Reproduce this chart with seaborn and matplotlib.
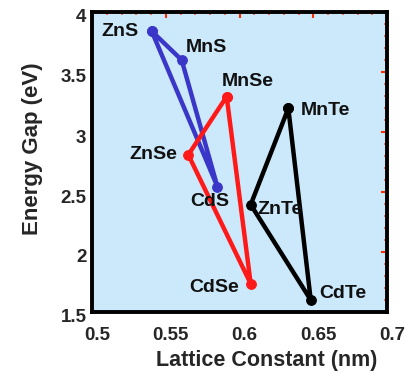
import matplotlib
matplotlib.use("Agg")
import matplotlib.pyplot as plt
import matplotlib.transforms as mtransforms
import numpy as np
import pandas as pd
import seaborn as sns

# II-VI semiconductors: lattice constant (nm) and band gap (eV)
sulfides = ["ZnS", "MnS", "CdS"]
sulfide_a = [0.5405, 0.5608, 0.585]
sulfide_eg = [3.84, 3.60, 2.545]

selenides = ["MnSe", "ZnSe", "CdSe"]
selenide_a = [0.5913, 0.5653, 0.6076]
selenide_eg = [3.295, 2.81, 1.735]

tellurides = ["MnTe", "ZnTe", "CdTe"]
telluride_a = [0.6331, 0.6076, 0.6483]
telluride_eg = [3.197, 2.395, 1.60]

x_ticks = [0.5, 0.55, 0.6, 0.65, 0.7]
x_ticklabels = ["0.5", "0.55", "0.6", "0.65", "0.7"]
y_ticks = [1.5, 2, 2.5, 3, 3.5, 4]
y_ticklabels = ["1.5", "2", "2.5", "3", "3.5", "4"]

sns.set_style("white")
plt.rcParams["font.family"] = ["Liberation Sans", "DejaVu Sans"]
plt.rcParams["font.weight"] = "bold"

fig = plt.figure(figsize=(4.05, 3.74), dpi=100)
ax = fig.add_axes([92 / 405, 62 / 374, 295 / 405, 300 / 374])
ax.set_facecolor("#cce9fb")

groups = [
    (sulfides, sulfide_a, sulfide_eg, "#3a36c8"),
    (selenides, selenide_a, selenide_eg, "#ff1a1a"),
    (tellurides, telluride_a, telluride_eg, "#000000"),
]

for names, a, eg, color in groups:
    df = pd.DataFrame({"a": a + a[:1], "eg": eg + eg[:1]})
    sns.lineplot(data=df, x="a", y="eg", sort=False, estimator=None, ax=ax,
                 color=color, linewidth=3.2, marker="o", markersize=7,
                 markeredgecolor=color, markerfacecolor=color)

# label placement (offsets in pixels, alignment)
label_pos = {
    "ZnS": (-13, 0, "right"), "MnS": (4, 13, "left"), "CdS": (-8, -15, "center"),
    "MnSe": (-5, 15, "left"), "ZnSe": (-11, 0, "right"), "CdSe": (-12, -4, "right"),
    "MnTe": (12, -2, "left"), "ZnTe": (7, -5, "left"), "CdTe": (9, 6, "left"),
}
for names, a, eg, color in groups:
    for n, xv, yv in zip(names, a, eg):
        dx, dy, ha = label_pos[n]
        ax.annotate(n, (xv, yv), xytext=(dx * 0.72, dy * 0.72),
                    textcoords="offset points", ha=ha, va="center",
                    fontsize=14, fontweight="bold", color="#111111")

ax.set_xlim(0.5, 0.7)
ax.set_ylim(1.5, 4)
ax.set_xticks(x_ticks)
ax.set_xticklabels(x_ticklabels)
ax.set_yticks(y_ticks)
ax.set_yticklabels(y_ticklabels)
ax.set_xticks(np.arange(0.51, 0.7, 0.01), minor=True)
ax.set_yticks(np.arange(1.6, 4.0, 0.1), minor=True)
ax.tick_params(axis="both", which="major", direction="in", length=4, width=1.5,
               color="#ff2a00", labelsize=13.5, pad=4, top=True, right=True)
ax.tick_params(axis="x", which="major", pad=11)
ax.tick_params(axis="both", which="minor", direction="in", length=2, width=1.2,
               color="#ff5a30", top=True, right=True)

# nudge the tick labels the way the original figure sits
for lab in ax.get_xticklabels():
    lab.set_transform(lab.get_transform() +
                      mtransforms.ScaledTranslation(5 / 100, 0, fig.dpi_scale_trans))
    lab.set_fontweight("bold")
for lab in ax.get_yticklabels():
    lab.set_transform(lab.get_transform() +
                      mtransforms.ScaledTranslation(0, -4 / 100, fig.dpi_scale_trans))
    lab.set_fontweight("bold")

for s in ax.spines.values():
    s.set_visible(True)
    s.set_color("black")
    s.set_linewidth(2.8)

ax.set_xlabel("Lattice Constant (nm)", fontsize=15.5, fontweight="bold", va="center")
ax.xaxis.set_label_coords(0.593, -0.163)
ax.set_ylabel("Energy Gap (eV)", fontsize=16, fontweight="bold", va="center")
ax.yaxis.set_label_coords(-0.203, 0.543)

fig.savefig("out.png", dpi=100)
